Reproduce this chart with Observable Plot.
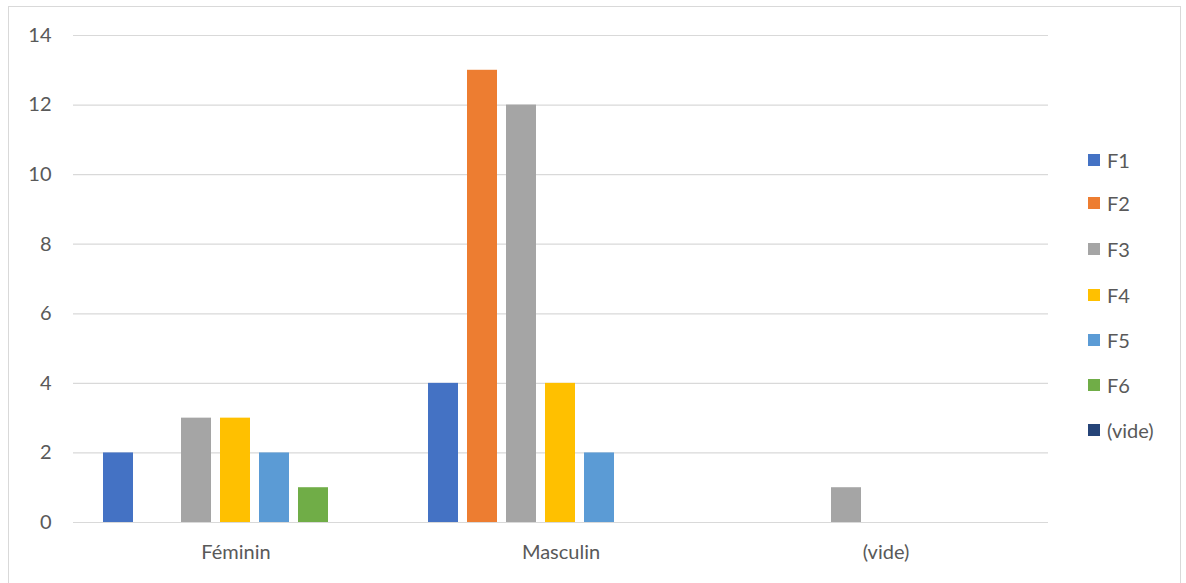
<!DOCTYPE html>
<html>
<head>
<meta charset="utf-8">
<script src="https://cdn.jsdelivr.net/npm/d3@7"></script>
<script src="https://cdn.jsdelivr.net/npm/@observablehq/plot@0.6"></script>
<style>
  html, body { margin: 0; padding: 0; background: #fff; }
  #wrap { position: relative; width: 1186px; height: 583px; overflow: hidden; font-family: Lato, "Open Sans", sans-serif; }
  #frame { position: absolute; left: 8px; top: 6px; width: 1173px; height: 590px; border: 1px solid #d9d9d9; box-sizing: border-box; }
  #chart { position: absolute; left: 0; top: 0; }
  #legend { position: absolute; left: 1088px; top: 0; }
  .item { position: absolute; left: 0; display: flex; align-items: center; white-space: nowrap; font-size: 20px; color: #595959; height: 24px; }
  .sw { width: 12px; height: 12px; margin-right: 7px; }
</style>
</head>
<body>
<div id="wrap">
  <div id="frame"></div>
  <div id="chart"></div>
  <div id="legend"></div>
</div>
<script>
const categories = ["Féminin", "Masculin", "(vide)"];
const series = ["F1", "F2", "F3", "F4", "F5", "F6", "(vide)"];
const colors = ["#4472C4", "#ED7D31", "#A5A5A5", "#FFC000", "#5B9BD5", "#70AD47", "#264478"];
const F1 = [2, 4, 0];
const F2 = [0, 13, 0];
const F3 = [3, 12, 1];
const F4 = [3, 4, 0];
const F5 = [2, 2, 0];
const F6 = [1, 0, 0];
const Fvide = [0, 0, 0];
const yTicks = [0, 2, 4, 6, 8, 10, 12, 14];

const valuesBySeries = [F1, F2, F3, F4, F5, F6, Fvide];
const data = [];
series.forEach((s, i) => {
  categories.forEach((c, j) => {
    data.push({category: c, series: s, value: valuesBySeries[i][j]});
  });
});

const chart = Plot.plot({
  width: 1186,
  height: 583,
  marginLeft: 72,
  marginRight: 137,
  marginTop: 35,
  marginBottom: 61,
  style: {fontFamily: "Lato, 'Open Sans', sans-serif", fontSize: "20px", color: "#595959", background: "transparent"},
  fx: {domain: categories, padding: 0, label: null, tickSize: 0, tickPadding: 22},
  x: {domain: series, axis: null, paddingInner: 0.23, paddingOuter: 0.78},
  y: {domain: [0, 14], ticks: yTicks, label: null, tickSize: 0, tickPadding: 22, grid: false},
  color: {domain: series, range: colors},
  marks: [
    Plot.ruleY(yTicks, {stroke: "#d9d9d9", strokeWidth: 1.2}),
    Plot.barY(data.filter(d => d.value > 0), {fx: "category", x: "series", y: "value", fill: "series"})
  ]
});
document.getElementById("chart").appendChild(chart);

const legend = document.getElementById("legend");
const rowCenters = [160, 203, 249, 295, 340, 385, 430];
series.forEach((s, i) => {
  const it = document.createElement("div");
  it.className = "item";
  it.style.top = (rowCenters[i] - 12) + "px";
  const sw = document.createElement("div");
  sw.className = "sw";
  sw.style.background = colors[i];
  const t = document.createElement("span");
  t.textContent = s;
  it.appendChild(sw);
  it.appendChild(t);
  legend.appendChild(it);
});
</script>
</body>
</html>
